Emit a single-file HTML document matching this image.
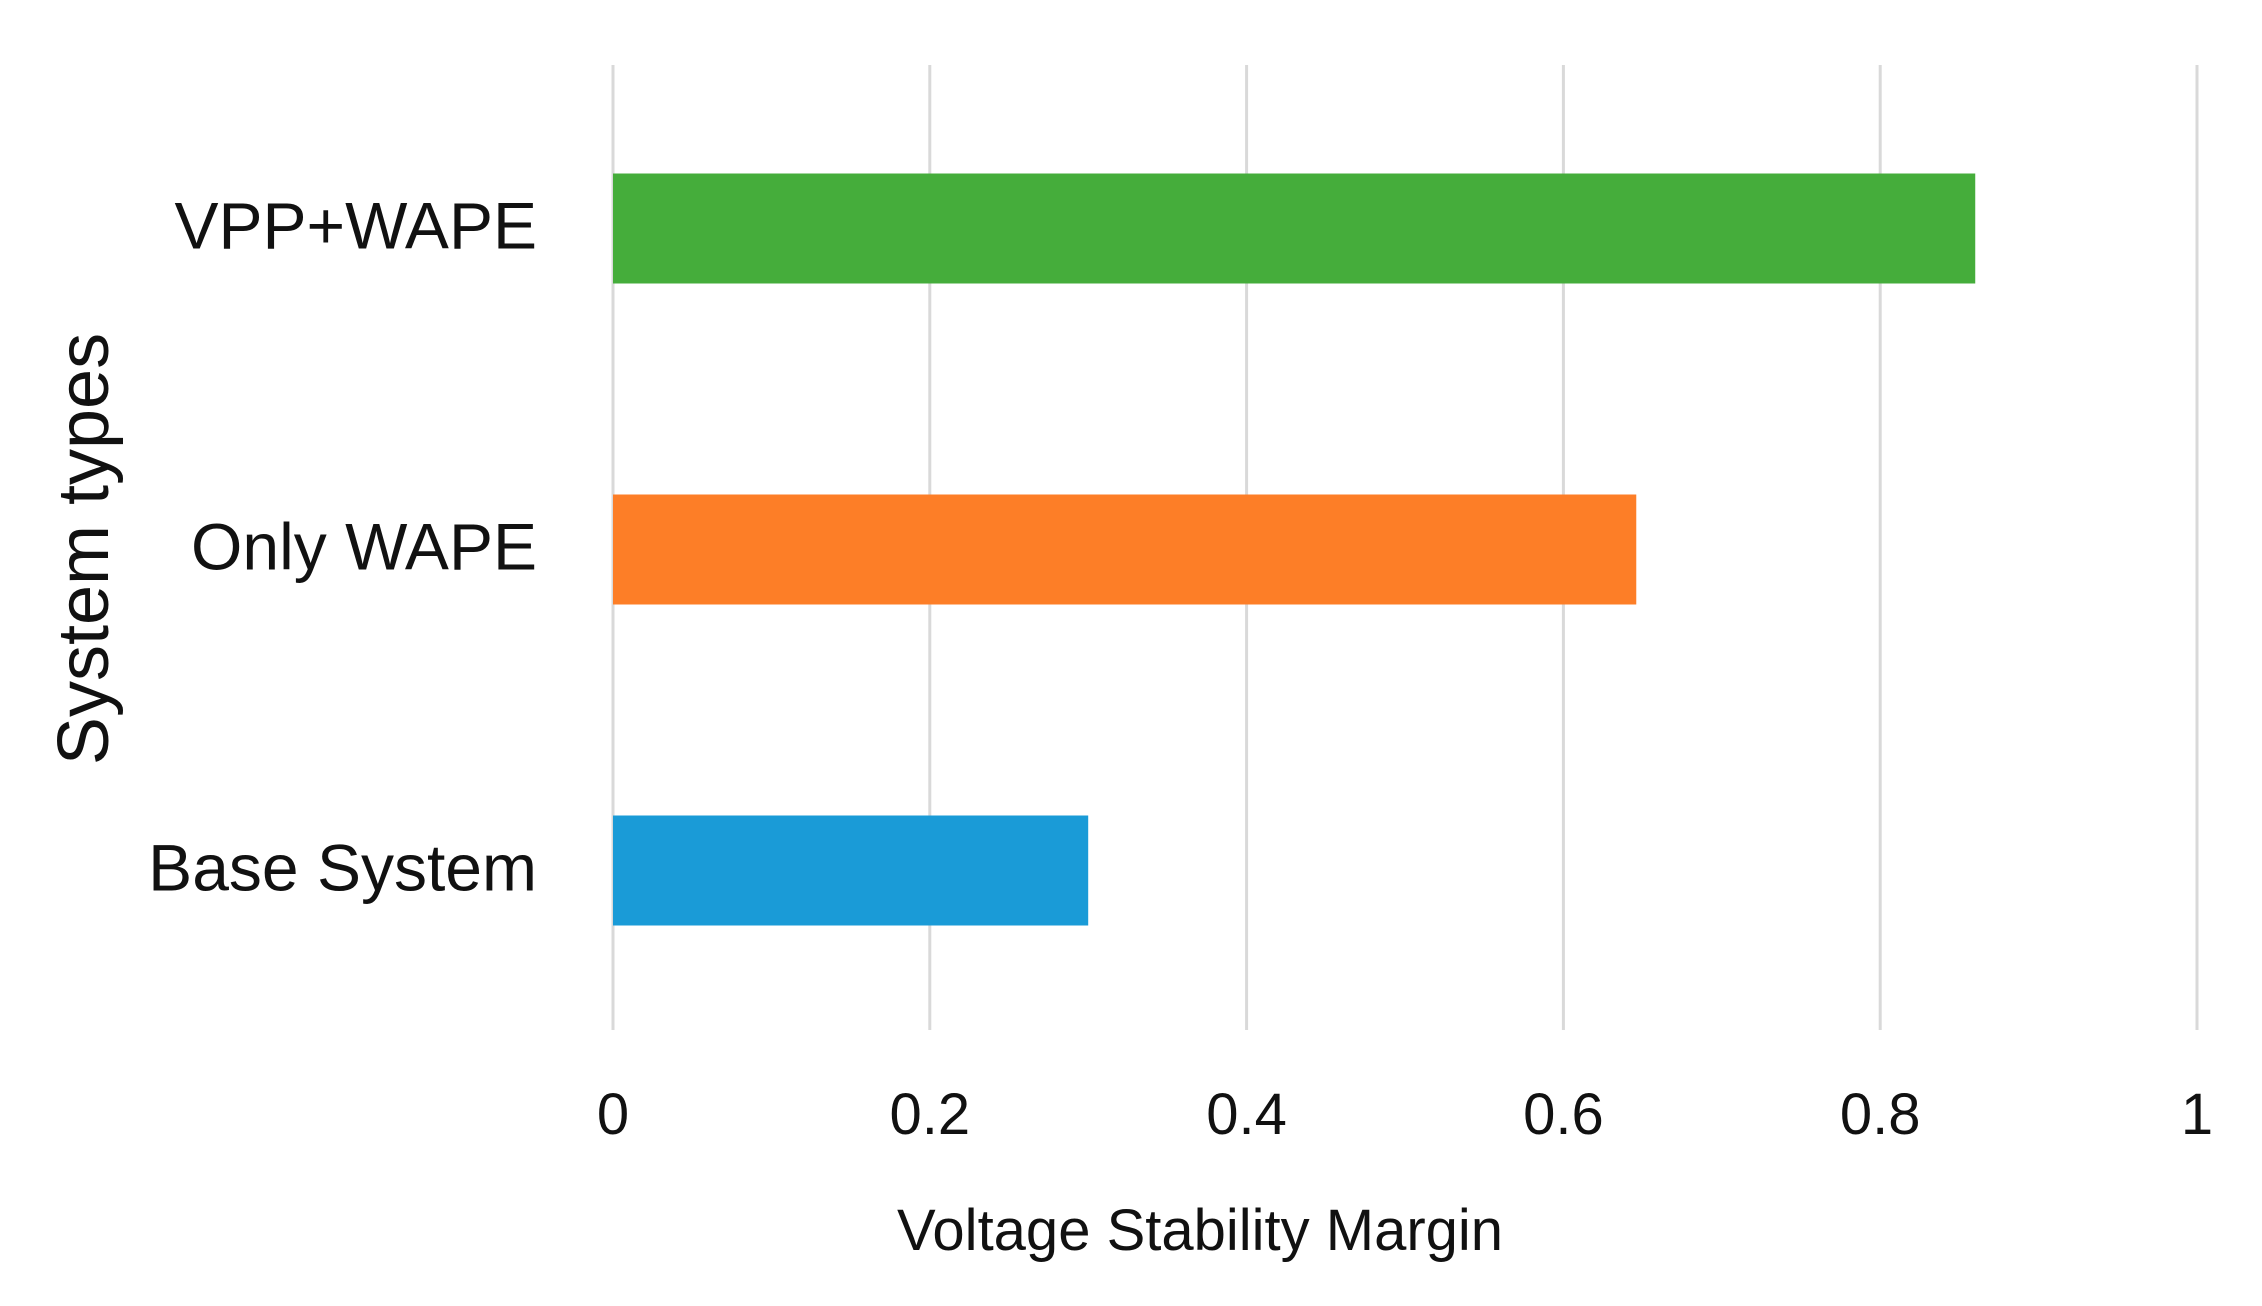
<!DOCTYPE html>
<html><head><meta charset="utf-8"><style>
body{margin:0;background:#fff}
svg{display:block;font-family:"Liberation Sans",sans-serif}
</style></head><body>
<svg id="chart" width="2262" height="1306" viewBox="0 0 2262 1306">
<g id="grid"></g><g id="bars"></g><g id="xticks"></g><g id="ylabels"></g>
<text x="1200" y="1250" font-size="58" text-anchor="middle" fill="#111">Voltage Stability Margin</text>
<text transform="translate(108,549) rotate(-90)" font-size="72" text-anchor="middle" fill="#111">System types</text>
</svg>
<script>
const categories=["VPP+WAPE","Only WAPE","Base System"];
const values=[0.86,0.646,0.30];
const colors=["#45ad3b","#fd7e27","#1a9bd7"];
const tickValues=[0,0.2,0.4,0.6,0.8,1];
const tickLabels=["0","0.2","0.4","0.6","0.8","1"];
const NS="http://www.w3.org/2000/svg";
const x0=613,x1=2197,gTop=65,gBot=1030;
const X=v=>x0+(x1-x0)*v;
const bandTop=68,band=321;
const Y=i=>bandTop+band*i+band/2;
const barH=110;
function mk(t,a,p){const e=document.createElementNS(NS,t);for(const k in a)e.setAttribute(k,a[k]);p.appendChild(e);return e;}
const grid=document.getElementById('grid'),bars=document.getElementById('bars'),xt=document.getElementById('xticks'),yl=document.getElementById('ylabels');
tickValues.forEach((v,i)=>{
 const l=mk('line',{x1:X(v),x2:X(v),y1:gTop,y2:gBot,stroke:'#d9d9d9','stroke-width':3},grid);
 
 
 const t=mk('text',{x:X(v),y:1134,'font-size':58,'text-anchor':'middle',fill:'#111'},xt);
 t.textContent=tickLabels[i];
 
 
});
categories.forEach((c,i)=>{
 const r=mk('rect',{x:X(0),y:Y(i)-barH/2,width:X(values[i])-X(0),height:barH,fill:colors[i]},bars);
 
 
 const t=mk('text',{x:537,y:Y(i)+20,'font-size':66,'text-anchor':'end',fill:'#111'},yl);
 t.textContent=c;
 
 
});
</script>
</body></html>
